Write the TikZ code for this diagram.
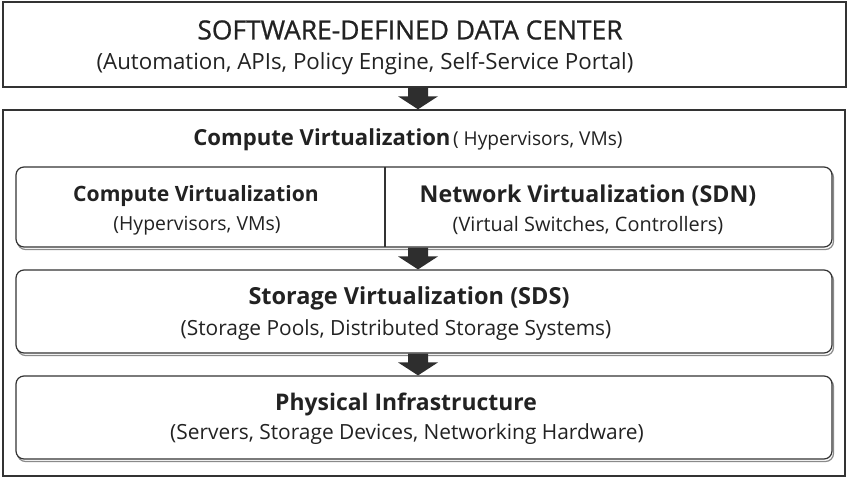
\documentclass[tikz,border=0pt]{standalone}
\usepackage{fontspec}
\setmainfont{Open Sans}
\usetikzlibrary{calc}
\definecolor{linec}{HTML}{333333}
\definecolor{arrowc}{HTML}{2E2E2E}
\definecolor{textc}{HTML}{222222}
\definecolor{shadowc}{HTML}{8A8A8A}
\tikzset{
  sqbox/.style={draw=linec, line width=1.4pt, fill=white, inner sep=0pt},
  rbox/.style={draw=linec, line width=1.2pt, fill=white, rounded corners=8pt, inner sep=0pt},
  shadowbox/.style={draw=shadowc, line width=1.2pt, rounded corners=8pt},
  lbl/.style={text=textc, inner sep=0pt},
}
\newcommand\fatarrow[2]{%
  \fill[arrowc] let \p1=(#1), \p2=(#2) in
    (\x1-10pt,\y1) -- (\x1+10pt,\y1) -- (\x1+10pt,\y2+13pt) -- (\x1+20pt,\y2+13pt)
    -- (\x1,\y2) -- (\x1-20pt,\y2+13pt) -- (\x1-10pt,\y2+13pt) -- cycle;}
\newcommand\fsz[1]{\fontsize{#1}{#1}\selectfont}
\begin{document}
\begin{tikzpicture}[x=1pt,y=1pt]
\useasboundingbox (0,0) rectangle (848,479);
\fill[white] (0,0) rectangle (848,479);
% outer container
\node[sqbox, minimum width=842pt, minimum height=366pt] (outer) at (424,186) {};
% top box
\node[sqbox, minimum width=843pt, minimum height=85pt] (top) at (424.5,434.5) {};
\node[lbl, font=\fsz{26.4}\addfontfeature{FakeBold=0.8}] (t1) at (410,449) {SOFTWARE-DEFINED DATA CENTER};
\node[lbl, font=\fsz{22.3}] (t2) at (365,415) {(Automation, APIs, Policy Engine, Self-Service Portal)};
% header
\node[lbl] (hdr) at (408,339) {{\fsz{22.1}\bfseries Compute Virtualization} {\fsz{19.1}( Hypervisors, VMs)}};
% shadows
\draw[shadowbox] (17.5,229.5) rectangle (833.5,309.5);
\draw[shadowbox] (17.5,123.5) rectangle (833.5,206.5);
\draw[shadowbox] (17.5,17.5) rectangle (833.5,100.5);
% row box
\node[rbox, minimum width=816pt, minimum height=80pt] (row) at (424,272) {};
\coordinate (divt) at (385,312);
\coordinate (divb) at (385,232);
\draw[linec, line width=1.2pt] (divt) -- (divb);
\node[lbl, font=\fsz{21.1}\bfseries] (cvt) at (196,283) {Compute Virtualization};
\node[lbl, font=\fsz{19.4}] (cvs) at (197,253) {(Hypervisors, VMs)};
\node[lbl, font=\fsz{23.2}\bfseries] (nvt) at (588,283) {Network Virtualization (SDN)};
\node[lbl, font=\fsz{19.9}] (nvs) at (588,253) {(Virtual Switches, Controllers)};
% storage
\node[rbox, minimum width=816pt, minimum height=83pt] (stor) at (424,167.5) {};
\node[lbl, font=\fsz{23.5}\bfseries] (st) at (409,181) {Storage Virtualization (SDS)};
\node[lbl, font=\fsz{20.9}] (ss) at (396,149) {(Storage Pools, Distributed Storage Systems)};
% physical
\node[rbox, minimum width=816pt, minimum height=83pt] (phys) at (424,61.5) {};
\node[lbl, font=\fsz{22.9}\bfseries] (pt) at (406,75) {Physical Infrastructure};
\node[lbl, font=\fsz{20.9}] (ps) at (407,45) {(Servers, Storage Devices, Networking Hardware)};
% arrows
\coordinate (a1s) at ($(top.south)+(-6.5,0)$);
\coordinate (a1e) at ($(outer.north)+(-6,0)$);
\fatarrow{a1s}{a1e}
\coordinate (a2s) at ($(row.south)+(-6,0)$);
\coordinate (a2e) at ($(stor.north)+(-6,0)$);
\fatarrow{a2s}{a2e}
\coordinate (a3s) at ($(stor.south)+(-6,0)$);
\coordinate (a3e) at ($(phys.north)+(-6,0)$);
\fatarrow{a3s}{a3e}
\end{tikzpicture}
\end{document}
